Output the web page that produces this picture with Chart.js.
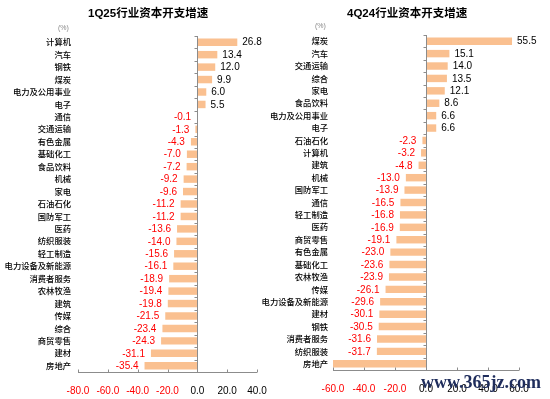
<!DOCTYPE html>
<html>
<head>
<meta charset="utf-8">
<script src="https://cdn.jsdelivr.net/npm/chart.js@4"></script>
<style>
  body { margin: 0; background: #fff; }
  #wrap { position: relative; width: 550px; height: 399px; overflow: hidden; font-family: 'Liberation Sans', 'Noto Sans CJK SC', sans-serif; }
  canvas { position: absolute; top: 0; }
  .title { position: absolute; top: 4px; font-size: 11.5px; font-weight: bold; color: #000; font-family: 'Liberation Sans', 'Noto Sans CJK SC', sans-serif; }
  .unit { position: absolute; font-size: 7px; color: #888; }
  .mark { position: absolute; left: 421px; top: 372px; font-family: 'Liberation Serif', 'DejaVu Serif', serif; font-weight: bold; font-size: 18px; color: #1f2d5c; }
</style>
</head>
<body>
<div id="wrap">
  <canvas id="left" width="275" height="399" style="left:0;width:275px;height:399px"></canvas>
  <canvas id="right" width="300" height="399" style="left:250px;width:300px;height:399px"></canvas>
  <div class="title" style="left:88px">1Q25行业资本开支增速</div>
  <div class="title" style="left:347px">4Q24行业资本开支增速</div>
  <div class="unit" style="left:58px;top:24px">(%)</div>
  <div class="unit" style="left:315px;top:22px">(%)</div>
  <div class="mark">www.365jz.com</div>
</div>
<script>
const leftLabels = ['计算机', '汽车', '钢铁', '煤炭', '电力及公用事业', '电子', '通信', '交通运输', '有色金属',
  '基础化工', '食品饮料', '机械', '家电', '石油石化', '国防军工', '医药', '纺织服装', '轻工制造',
  '电力设备及新能源', '消费者服务', '农林牧渔', '建筑', '传媒', '综合', '商贸零售', '建材', '房地产'];
const leftValues = [26.8, 13.4, 12.0, 9.9, 6.0, 5.5, -0.1, -1.3, -4.3,
  -7.0, -7.2, -9.2, -9.6, -11.2, -11.2, -13.6, -14.0, -15.6,
  -16.1, -18.9, -19.4, -19.8, -21.5, -23.4, -24.3, -31.1, -35.4];

const rightLabels = ['煤炭', '汽车', '交通运输', '综合', '家电', '食品饮料', '电力及公用事业', '电子', '石油石化',
  '计算机', '建筑', '机械', '国防军工', '通信', '轻工制造', '医药', '商贸零售', '有色金属',
  '基础化工', '农林牧渔', '传媒', '电力设备及新能源', '建材', '钢铁', '消费者服务', '纺织服装', '房地产'];
const rightValues = [55.5, 15.1, 14.0, 13.5, 12.1, 8.6, 6.6, 6.6, -2.3,
  -3.2, -4.8, -13.0, -13.9, -16.5, -16.8, -16.9, -19.1, -23.0,
  -23.6, -23.9, -26.1, -29.6, -30.1, -30.5, -31.6, -31.7, -62.0];

const leftTicks = [-80, -60, -40, -20, 0, 20, 40];
const rightTicks = [-60, -40, -20, 0, 20, 40, 60];

const RED = '#ff0000';
const BAR = '#FAC090';
const AXIS = '#8c8c8c';

// axis lines + small tick marks, zero line with marks between categories
const axisPlugin = {
  id: 'axisLines',
  afterDatasetsDraw(chart) {
    const { ctx, chartArea: a, scales } = chart;
    const x = scales.x;
    const x0 = Math.round(x.getPixelForValue(0)) + 0.5;
    const yb = Math.round(a.bottom) + 0.5;
    ctx.save();
    ctx.strokeStyle = AXIS;
    ctx.lineWidth = 1;
    ctx.beginPath();
    ctx.moveTo(a.left, yb); ctx.lineTo(a.right, yb);
    x.ticks.forEach(t => {
      const px = Math.round(x.getPixelForValue(t.value)) + 0.5;
      ctx.moveTo(px, yb); ctx.lineTo(px, yb - 3);
    });
    ctx.moveTo(x0, a.top); ctx.lineTo(x0, yb);
    const n = chart.data.labels.length;
    const step = (a.bottom - a.top) / n;
    for (let i = 0; i <= n; i++) {
      const py = Math.round(a.top + i * step) + 0.5;
      ctx.moveTo(x0 - 3, py); ctx.lineTo(x0, py);
    }
    ctx.stroke();
    ctx.restore();
  }
};

const valueLabels = {
  id: 'valueLabels',
  afterDatasetsDraw(chart) {
    const { ctx, chartArea: a } = chart;
    const meta = chart.getDatasetMeta(0);
    const vals = chart.data.datasets[0].data;
    ctx.save();
    ctx.font = '10px "Liberation Sans", Arial, sans-serif';
    ctx.textBaseline = 'middle';
    meta.data.forEach((bar, i) => {
      const v = vals[i];
      if (bar.x < a.left - 0.5 || bar.x > a.right + 0.5) return;
      if (v >= 0) {
        ctx.fillStyle = '#000';
        ctx.textAlign = 'left';
        ctx.fillText(v.toFixed(1), bar.x + 5, bar.y + 0.5);
      } else {
        ctx.fillStyle = RED;
        ctx.textAlign = 'right';
        ctx.fillText(v.toFixed(1), bar.x - 6, bar.y + 0.5);
      }
    });
    ctx.restore();
  }
};

function makeChart(id, labels, values, ticks, yWidth, pad, labelPad) {
  return new Chart(document.getElementById(id), {
    type: 'bar',
    data: {
      labels,
      datasets: [{
        data: values,
        backgroundColor: BAR,
        borderWidth: 0,
        barPercentage: 0.6,
        categoryPercentage: 1
      }]
    },
    options: {
      indexAxis: 'y',
      responsive: false,
      animation: false,
      events: [],
      layout: { padding: pad },
      plugins: { legend: { display: false }, tooltip: { enabled: false } },
      scales: {
        x: {
          min: ticks[0],
          max: ticks[ticks.length - 1],
          afterBuildTicks(s) { s.ticks = ticks.map(v => ({ value: v })); },
          grid: { display: false },
          border: { display: false },
          ticks: {
            padding: 5,
            font: { size: 10, family: '"Liberation Sans", Arial, sans-serif' },
            color: c => (c.tick.value < 0 ? RED : '#000'),
            callback: v => Number(v).toFixed(1),
            maxRotation: 0
          },
          afterFit(s) { s.height = 27; }
        },
        y: {
          grid: { display: false, drawTicks: false },
          border: { display: false },
          ticks: {
            autoSkip: false,
            padding: labelPad,
            color: '#000',
            font: { size: 8.3, weight: '500', family: '"Noto Sans CJK SC", sans-serif' }
          },
          afterFit(s) { s.width = yWidth; }
        }
      }
    },
    plugins: [axisPlugin, valueLabels]
  });
}

makeChart('left', leftLabels, leftValues, leftTicks, 78, { top: 36, right: 18, bottom: 0, left: 0 }, 7);
makeChart('right', rightLabels, rightValues, rightTicks, 83, { top: 35, right: 31, bottom: 2, left: 0 }, 5);
</script>
</body>
</html>
